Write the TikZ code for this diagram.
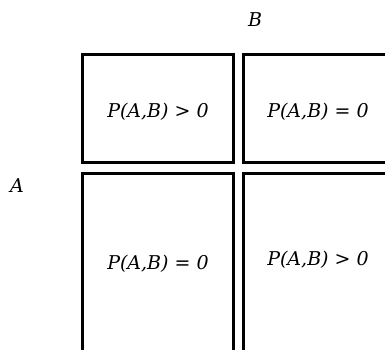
\documentclass[tikz,border=0pt]{standalone}
\usepackage{fontspec}
\setmainfont{DejaVu Serif}
\usetikzlibrary{positioning}

\begin{document}
\begin{tikzpicture}[x=1pt,y=-1pt,line width=3pt,
                    every node/.style={font=\fontsize{19}{22}\selectfont\itshape}]
  \tikzstyle{cell}=[draw=black,fill=none,inner sep=0pt]

  \useasboundingbox (0,0) rectangle (385,349);
  \clip (0,0) rectangle (385,349);

  \draw[cell] (82.5,54.5) rectangle (233.5,162.5);
  \draw[cell] (243.5,54.5) rectangle (396,162.5);
  \draw[cell] (82.5,173.5) rectangle (233.5,360);
  \draw[cell] (243.5,173.5) rectangle (396,360);

  \node (B)  at (255,20)  {B};
  \node (A)  at (17,186)  {A};
  \node (pTL) at (158,112) {P(A,B) > 0};
  \node (pTR) at (318,112) {P(A,B) = 0};
  \node (pBL) at (158,264) {P(A,B) = 0};
  \node (pBR) at (318,260) {P(A,B) > 0};
\end{tikzpicture}
\end{document}
